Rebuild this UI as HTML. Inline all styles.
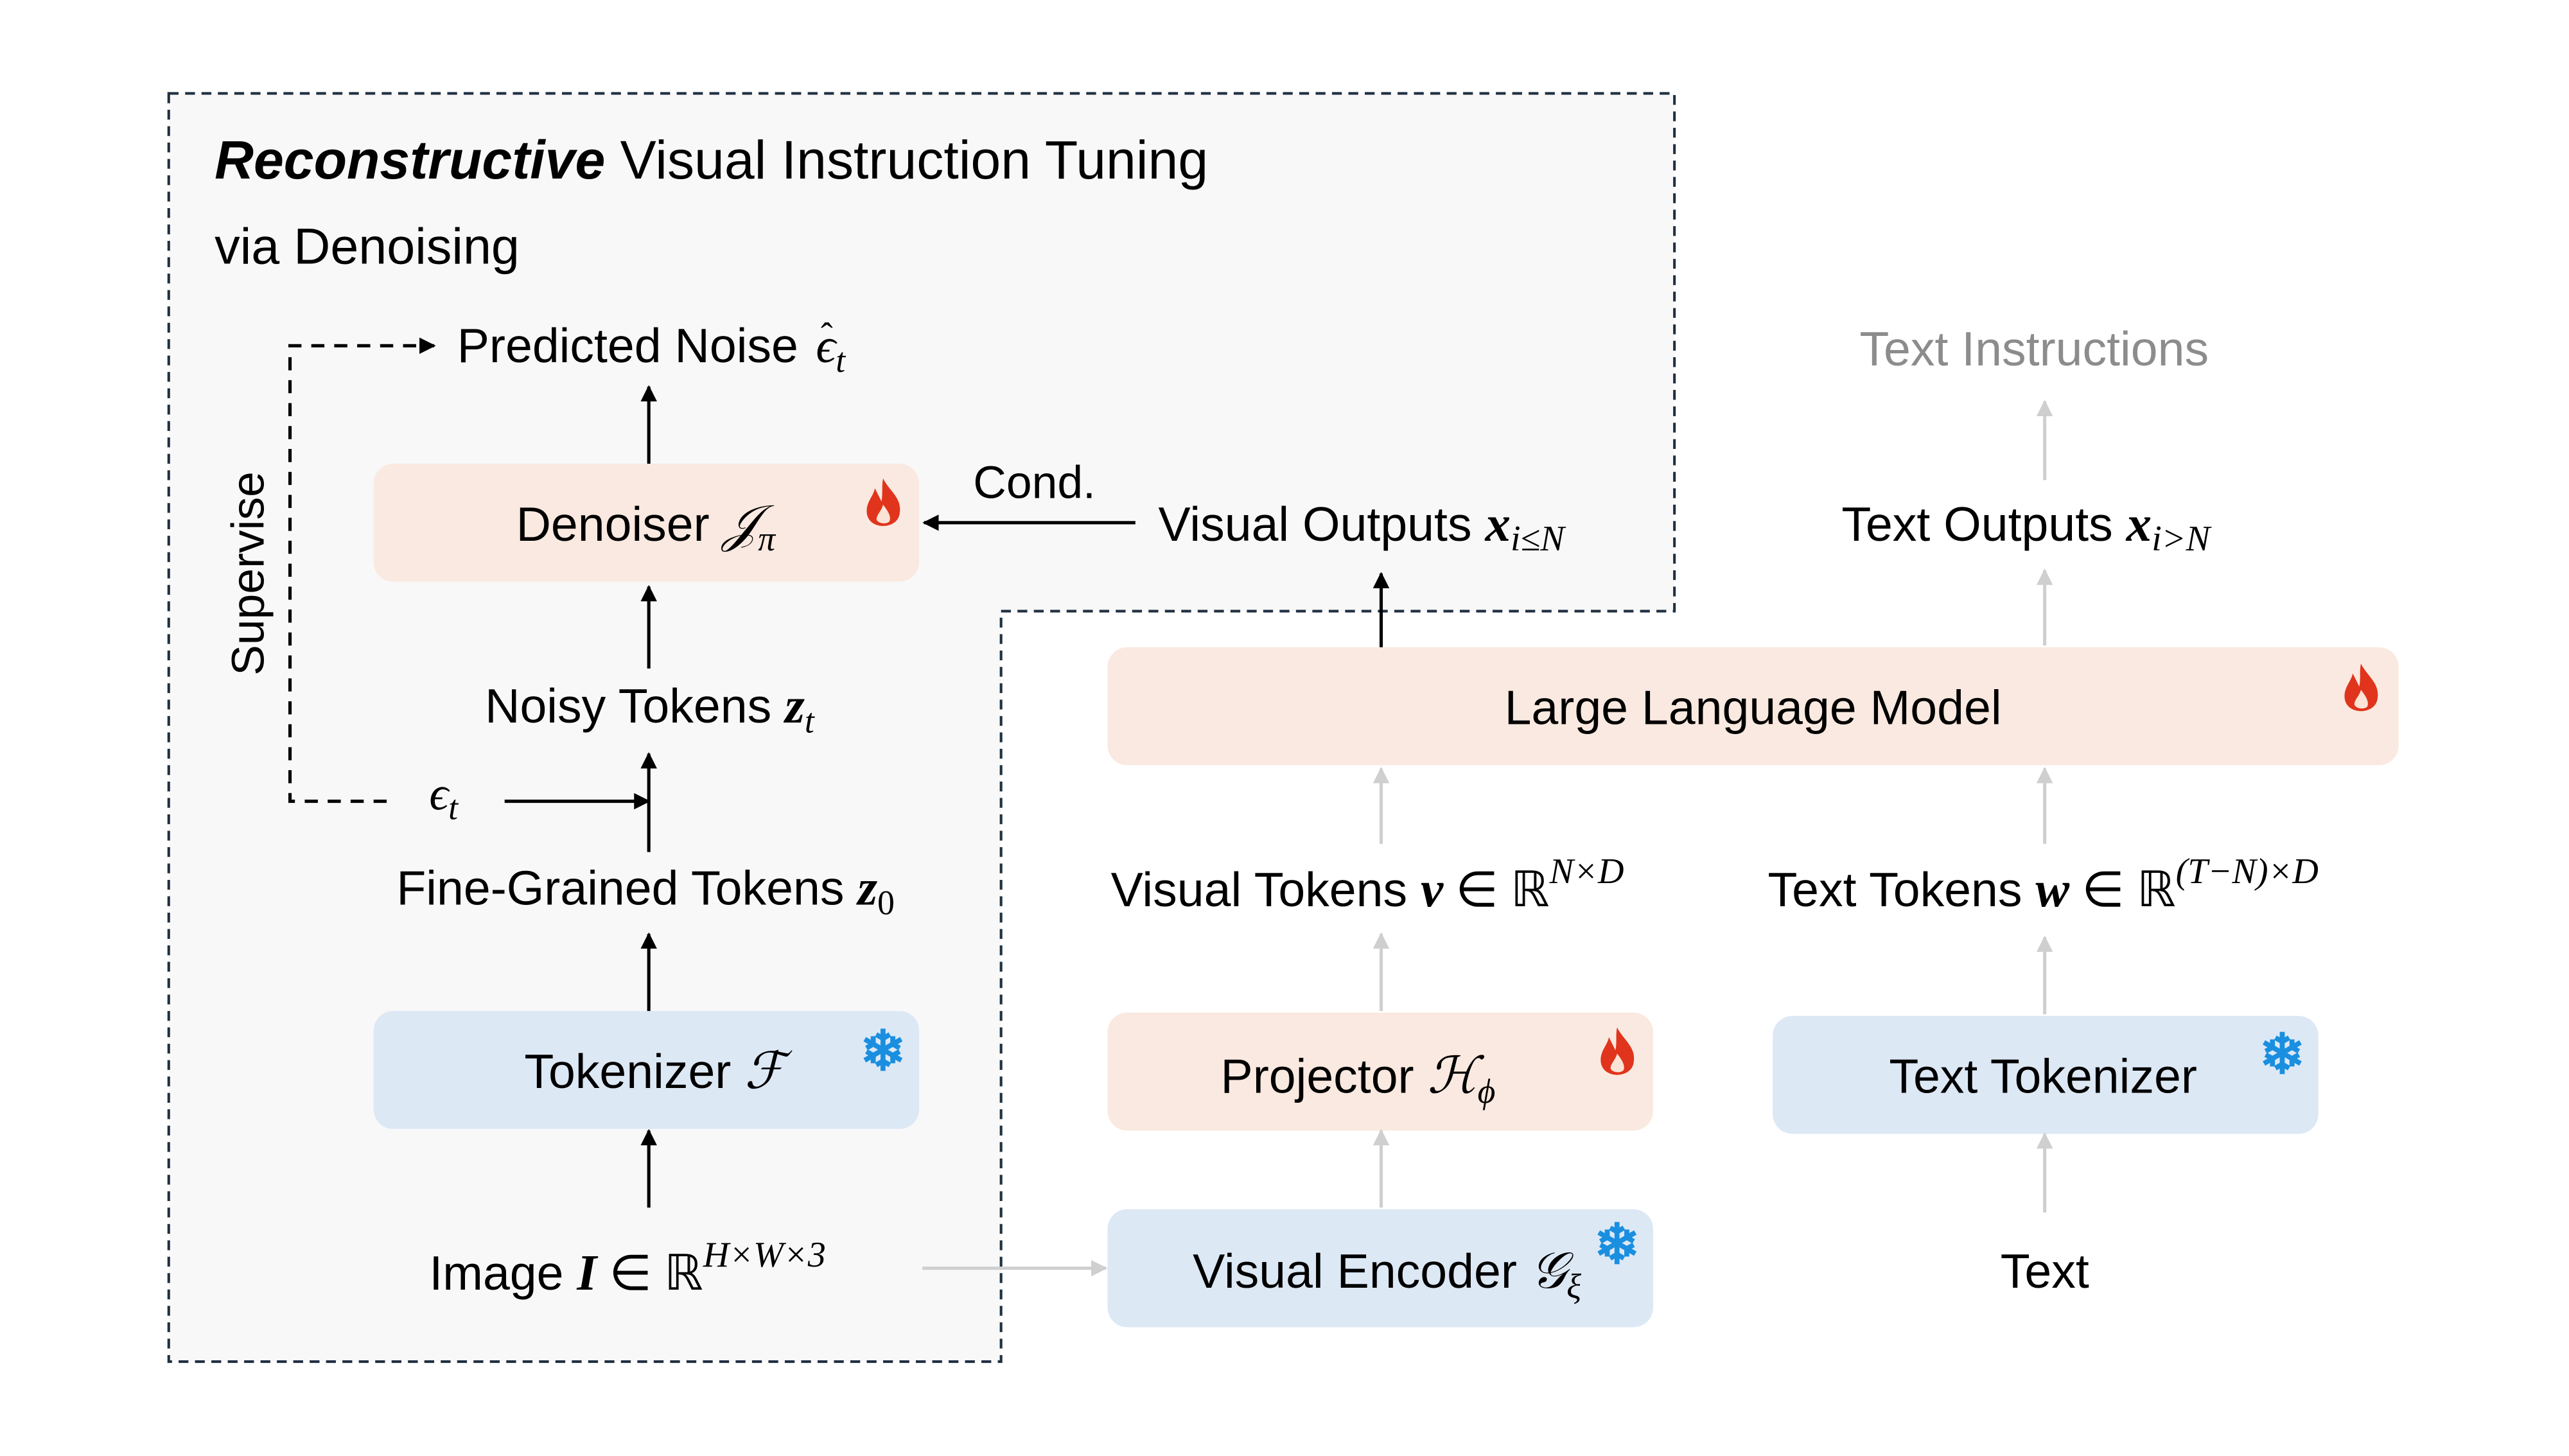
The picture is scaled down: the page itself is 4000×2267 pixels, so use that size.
<!DOCTYPE html>
<html><head><meta charset="utf-8"><style>
html,body{margin:0;padding:0;background:#fff;}
svg{display:block;}
text{font-family:"Liberation Sans",sans-serif;fill:#000;}
.m{font-family:"Liberation Serif",serif;font-style:italic;}
.r{font-family:"Liberation Serif",serif;font-style:normal;}
.sn{fill:#1a8fe0;font-weight:bold;}
.l{font-size:29.5px;}
</style></head><body>
<svg width="4000" height="2267" viewBox="0 0 1568 888.6" preserveAspectRatio="none" xmlns="http://www.w3.org/2000/svg">
<defs>
<marker id="ab" viewBox="0 0 10 10" refX="9" refY="5" markerWidth="5" markerHeight="5" orient="auto"><path d="M0,0 L10,5 L0,10 z" fill="#000"/></marker>
<marker id="ag" viewBox="0 0 10 10" refX="9" refY="5" markerWidth="5" markerHeight="5" orient="auto"><path d="M0,0 L10,5 L0,10 z" fill="#cfcfcf"/></marker>
<g id="flame"><path d="M0,-14 C4,-6 12,-2 10,8 C9,13 4,15 0,15 C-5,15 -10,12 -10,6 C-10,0 -6,-3 -5,-8 C-3,-4 -2,-2 -1,0 C0,-5 -1,-9 0,-14 z" fill="#e0341c"/><path d="M0,2 C3,6 5,9 4,12 C3,14 -3,14 -4,11 C-4,8 -1,6 0,2 z" fill="#fbe3d6"/></g>
</defs>
<path d="M103,57 L1022,57 L1022,373 L611,373 L611,831 L103,831 Z" fill="#f8f8f8" stroke="#1f3040" stroke-width="1.6" stroke-dasharray="6,4"/>
<text x="131" y="109" font-size="33"><tspan font-weight="bold" font-style="italic">Reconstructive</tspan> Visual Instruction Tuning</text>
<text x="131" y="161" font-size="31">via Denoising</text>
<rect x="228" y="283" width="333" height="72" rx="12" fill="#fae9e0"/>
<rect x="228" y="617" width="333" height="72" rx="12" fill="#dde8f5"/>
<rect x="676" y="395" width="788" height="72" rx="12" fill="#fae9e0"/>
<rect x="676" y="618" width="333" height="72" rx="12" fill="#fae9e0"/>
<rect x="676" y="738" width="333" height="72" rx="12" fill="#dde8f5"/>
<rect x="1082" y="620" width="333" height="72" rx="12" fill="#dde8f5"/>
<use href="#flame" transform="translate(539,306)"/>
<use href="#flame" transform="translate(1441,419)"/>
<use href="#flame" transform="translate(987,641)"/>
<text x="539" y="653" font-size="34" text-anchor="middle" class="sn">❄</text>
<text x="987" y="771" font-size="34" text-anchor="middle" class="sn">❄</text>
<text x="1393" y="655" font-size="34" text-anchor="middle" class="sn">❄</text>
<g stroke="#000" stroke-width="2" marker-end="url(#ab)">
<line x1="396" y1="283" x2="396" y2="236"/>
<line x1="396" y1="408" x2="396" y2="358"/>
<line x1="396" y1="520" x2="396" y2="460"/>
<line x1="396" y1="617" x2="396" y2="570"/>
<line x1="396" y1="737" x2="396" y2="690"/>
<line x1="308" y1="489" x2="396" y2="489"/>
<line x1="693" y1="319" x2="564" y2="319"/>
<line x1="843" y1="395" x2="843" y2="350"/>
</g>
<path d="M236,489 L177,489 L177,211 L265,211" fill="none" stroke="#000" stroke-width="2" stroke-dasharray="8,6" marker-end="url(#ab)"/>
<g stroke="#cfcfcf" stroke-width="2" marker-end="url(#ag)">
<line x1="843" y1="515" x2="843" y2="469"/>
<line x1="843" y1="617" x2="843" y2="570"/>
<line x1="843" y1="737" x2="843" y2="690"/>
<line x1="1248" y1="515" x2="1248" y2="469"/>
<line x1="1248" y1="619" x2="1248" y2="572"/>
<line x1="1248" y1="740" x2="1248" y2="692"/>
<line x1="1248" y1="394" x2="1248" y2="348"/>
<line x1="1248" y1="293" x2="1248" y2="245"/>
<line x1="563" y1="774" x2="675" y2="774"/>
</g>
<text x="279" y="221" class="l">Predicted Noise</text>
<text x="498" y="221" font-size="30" class="m">ϵ<tspan font-size="21" dy="6">t</tspan></text>
<text x="501" y="212" font-size="22" class="r">ˆ</text>
<text x="315" y="330" class="l">Denoiser <tspan class="m" font-size="31">𝒥</tspan><tspan class="m" font-size="21" dy="6">π</tspan></text>
<text x="296" y="441" class="l">Noisy Tokens <tspan class="m" font-weight="bold" font-size="31">z</tspan><tspan class="m" font-size="21" dy="6">t</tspan></text>
<text x="262" y="494" font-size="29" class="m">ϵ<tspan font-size="21" dy="6">t</tspan></text>
<text x="242" y="552" class="l">Fine-Grained Tokens  <tspan class="m" font-weight="bold" font-size="31">z</tspan><tspan class="r" font-size="21" dy="6">0</tspan></text>
<text x="320" y="664" class="l">Tokenizer <tspan class="m" font-size="31">ℱ</tspan></text>
<text x="262" y="787" class="l">Image <tspan class="m" font-weight="bold" font-size="31">I</tspan><tspan class="r" font-size="30"> ∈ ℝ</tspan><tspan class="m" font-size="22" dy="-14">H×W×3</tspan></text>
<text x="594" y="304" font-size="28">Cond.</text>
<text x="707" y="330" class="l">Visual Outputs <tspan class="m" font-weight="bold" font-size="31">x</tspan><tspan class="m" font-size="22" dy="6">i≤N</tspan></text>
<text x="1135" y="223" class="l" style="fill:#8c8c8c">Text Instructions</text>
<text x="1124" y="330" class="l">Text Outputs <tspan class="m" font-weight="bold" font-size="31">x</tspan><tspan class="m" font-size="22" dy="6">i&gt;N</tspan></text>
<text x="1070" y="442" class="l" text-anchor="middle">Large Language Model</text>
<text x="678" y="553" class="l">Visual Tokens  <tspan class="m" font-weight="bold" font-size="31">v</tspan><tspan class="r" font-size="30"> ∈ ℝ</tspan><tspan class="m" font-size="22" dy="-14">N×D</tspan></text>
<text x="1079" y="553" class="l">Text Tokens  <tspan class="m" font-weight="bold" font-size="31">w</tspan><tspan class="r" font-size="30"> ∈ ℝ</tspan><tspan class="m" font-size="22" dy="-14">(T−N)×D</tspan></text>
<text x="745" y="667" class="l">Projector <tspan class="m" font-size="31">ℋ</tspan><tspan class="m" font-size="21" dy="6">ϕ</tspan></text>
<text x="1153" y="667" class="l">Text Tokenizer</text>
<text x="728" y="786" class="l">Visual Encoder <tspan class="m" font-size="31">𝒢</tspan><tspan class="m" font-size="21" dy="6">ξ</tspan></text>
<text x="1221" y="786" class="l">Text</text>
<text transform="translate(161,350) rotate(-90)" font-size="28" text-anchor="middle">Supervise</text>
</svg>
</body></html>
